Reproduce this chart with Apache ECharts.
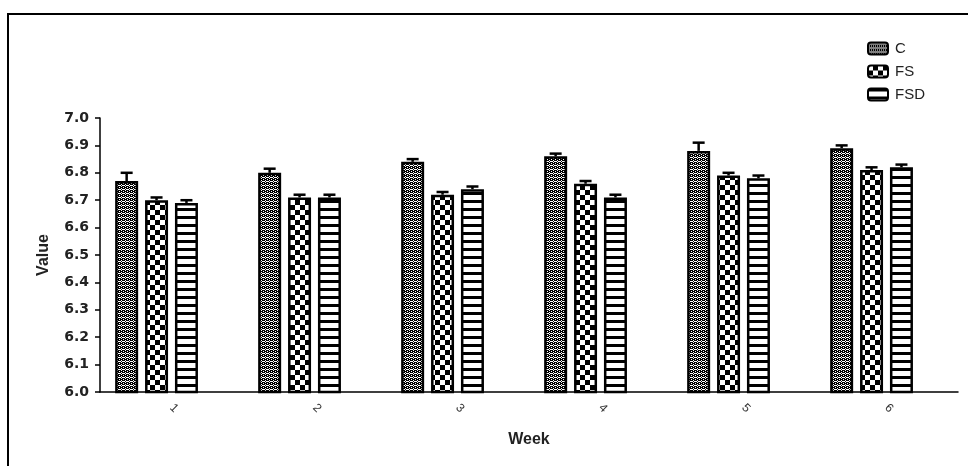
<!DOCTYPE html>
<html><head><meta charset="utf-8">
<script src="https://cdn.jsdelivr.net/npm/echarts@6/dist/echarts.min.js"></script>
<style>html,body{margin:0;padding:0;background:#fff}#c{width:968px;height:466px}</style>
</head><body><div id="c"></div>
<script>
const categories = ['1','2','3','4','5','6'];
const seriesNames = ['C','FS','FSD'];
const valuesC   = [6.77, 6.80, 6.84, 6.86, 6.88, 6.89];
const valuesFS  = [6.70, 6.71, 6.72, 6.76, 6.79, 6.81];
const valuesFSD = [6.69, 6.71, 6.74, 6.71, 6.78, 6.82];
const errC   = [0.03, 0.015, 0.01, 0.01, 0.03, 0.01];
const errFS  = [0.01, 0.01, 0.01, 0.01, 0.01, 0.01];
const errFSD = [0.01, 0.01, 0.01, 0.01, 0.01, 0.01];
const yTicks = ['6.0','6.1','6.2','6.3','6.4','6.5','6.6','6.7','6.8','6.9','7.0'];

function makeTile(w, h, draw) {
  const cv = document.createElement('canvas');
  cv.width = w; cv.height = h;
  const ctx = cv.getContext('2d');
  ctx.fillStyle = '#000'; ctx.fillRect(0, 0, w, h);
  ctx.fillStyle = '#fff';
  draw(ctx);
  return cv;
}
const tileC = makeTile(4, 4, ctx => {
  ctx.fillRect(1, 0, 1, 1); ctx.fillRect(0, 1, 1, 1); ctx.fillRect(2, 1, 1, 1); ctx.fillRect(1, 2, 1, 1);
  ctx.fillRect(3, 3, 1, 1); ctx.fillRect(3, 1, 1, 1);
});
const tileFS = makeTile(10, 10, ctx => {
  ctx.fillRect(0, 0, 5, 5); ctx.fillRect(5, 5, 5, 5);
});
const tileFSD = makeTile(8, 8, ctx => {
  ctx.fillRect(0, 3, 8, 5);
});
const patterns = [tileC, tileFS, tileFSD].map(t => ({ image: t, repeat: 'repeat' }));
const vals = [valuesC, valuesFS, valuesFSD];
const errs = [errC, errFS, errFSD];

const BW = 23;
const offsets = [-44.85, -14.95, 14.95];

const series = [];
for (let s = 0; s < 3; s++) {
  series.push({
    name: seriesNames[s], type: 'bar', barWidth: BW, barGap: '30%',
    data: vals[s],
    itemStyle: { color: patterns[s], borderColor: '#000', borderWidth: 2.5 },
    emphasis: { disabled: true }, silent: true
  });
}
series.push({
  name: '_pad', type: 'bar', barWidth: BW, barGap: '30%',
  data: categories.map(() => 0),
  itemStyle: { color: 'rgba(0,0,0,0)' }, silent: true
});
for (let s = 0; s < 3; s++) {
  const off = offsets[s];
  series.push({
    name: seriesNames[s] + '_err', type: 'custom', silent: true, z: 5,
    data: vals[s].map((v, i) => [i, v, errs[s][i]]),
    encode: { x: 0, y: 1 },
    renderItem: function (params, api) {
      const i = api.value(0), v = api.value(1), e = api.value(2);
      const p0 = api.coord([i, v]);
      const p1 = api.coord([i, v + e]);
      const x = p0[0] + off;
      return {
        type: 'group',
        children: [
          { type: 'line', shape: { x1: x, y1: p0[1], x2: x, y2: p1[1] }, style: { stroke: '#000', lineWidth: 2.5 } },
          { type: 'line', shape: { x1: x - 6, y1: p1[1], x2: x + 6, y2: p1[1] }, style: { stroke: '#000', lineWidth: 2.5 } }
        ]
      };
    }
  });
}

const chart = echarts.init(document.getElementById('c'), null, { renderer: 'canvas' });
chart.setOption({
  animation: false,
  backgroundColor: '#fff',
  grid: { left: 100, right: 10, top: 118, bottom: 74, containLabel: false },
  legend: {
    data: seriesNames, orient: 'vertical', left: 862, top: 36,
    itemWidth: 20, itemHeight: 12, itemGap: 8,
    textStyle: { fontFamily: 'Liberation Sans', fontSize: 15, color: '#222', padding: [0, 0, 0, 2] },
    selectedMode: false
  },
  xAxis: {
    type: 'category', data: categories,
    name: 'Week', nameLocation: 'middle', nameGap: 40,
    nameTextStyle: { fontFamily: 'Liberation Sans', fontWeight: 'bold', fontSize: 16, color: '#222' },
    axisLine: { lineStyle: { color: '#000', width: 1.5 } },
    axisTick: { alignWithLabel: true, length: 7, lineStyle: { color: '#000', width: 1.5 } },
    axisLabel: { rotate: -45, margin: 14, fontFamily: 'Liberation Sans', fontSize: 12, color: '#333' }
  },
  yAxis: {
    type: 'value', min: 6, max: 7, interval: 0.1,
    name: 'Value', nameLocation: 'middle', nameGap: 48, nameRotate: 90,
    nameTextStyle: { fontFamily: 'Liberation Sans', fontWeight: 'bold', fontSize: 16, color: '#222' },
    axisLine: { show: true, lineStyle: { color: '#000', width: 1.5 } },
    axisTick: { show: true, length: 5, lineStyle: { color: '#000', width: 1.5 } },
    splitLine: { show: false },
    axisLabel: {
      margin: 11, fontFamily: 'DejaVu Sans', fontWeight: 'bold', fontSize: 14, color: '#222',
      formatter: v => yTicks[Math.round((v - 6) * 10)]
    }
  },
  graphic: [{
    type: 'rect', silent: true, z: 100,
    shape: { x: 8, y: 14, width: 980, height: 480 },
    style: { fill: 'none', stroke: '#000', lineWidth: 2 }
  }],
  series: series
});
</script>
</body></html>
